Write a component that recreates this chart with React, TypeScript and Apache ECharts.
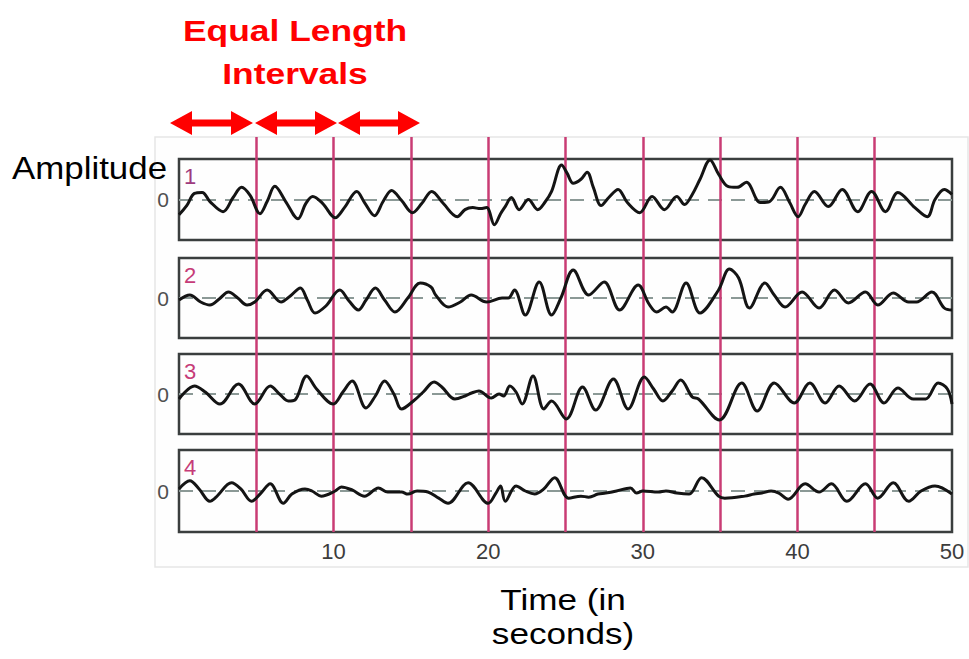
import React, { useEffect, useRef } from "react";
import * as echarts from "echarts";

// ---- data (time in seconds, amplitude in arbitrary units) ----
const panelLabels = ["1", "2", "3", "4"];
const xTickLabels = [10, 20, 30, 40, 50];
const intervalMarks = [5, 10, 15, 20, 25, 30, 35, 40, 45];

const signal1 = [
  [0, -15], [0.5, -6], [1.0, 6], [1.5, 7], [2.0, -2], [2.85, -12], [3.5, 2], [4.05, 12], [4.6, 4],
  [5.24, -14], [5.7, -2], [6.2, 13], [6.9, -2], [7.7, -19], [8.2, -4], [8.65, 3], [9.3, -4],
  [10.1, -18], [10.7, -8], [11.5, 8], [12.0, -3], [12.65, -16], [13.2, -2], [13.75, 9], [14.4, -1],
  [15.1, -13], [15.7, -4], [16.35, 8], [17.1, -4], [18.0, -17], [18.5, -10], [19.0, -8], [19.5, -9],
  [19.9, -8], [20.4, -25], [20.8, -14], [21.1, -7], [21.5, 2], [22.0, -10], [22.6, 0], [23.2, -10],
  [23.7, -2], [24.1, 8], [24.75, 34], [25.1, 26], [25.5, 16], [26.0, 20], [26.4, 27], [26.8, 12],
  [27.3, -6], [27.8, 2], [28.4, 10], [29.0, -3], [29.8, -13], [30.6, 3], [31.4, -10], [32.2, 3],
  [32.7, -5], [33.2, 5], [33.7, 20], [34.35, 39], [34.9, 25], [35.5, 13], [36.1, 12], [36.7, 17],
  [37.6, -3], [38.2, -2], [38.9, 12], [39.5, -3], [40.05, -17], [40.5, -5], [41.1, 8], [42.0, -7],
  [42.9, 10], [43.9, -12], [44.8, 8], [45.7, -12], [46.5, 7], [47.6, -8], [48.4, -17], [48.9, 0],
  [49.5, 10], [50, 5],
];

const signal2 = [
  [0, -2], [0.7, 3], [1.4, -4], [2.0, -7], [2.6, -1], [3.2, 6], [3.8, 0], [4.4, -7], [4.9, -4],
  [5.7, 8], [6.6, -4], [7.2, 2], [7.85, 10], [8.3, -2], [8.8, -15], [9.5, -8], [10.4, 8], [11.0, -3],
  [11.6, -12], [12.1, -2], [12.7, 10], [13.3, -2], [13.97, -14], [14.8, 0], [15.6, 15], [16.3, 11],
  [16.6, 3], [17.4, -9], [18.2, -4], [18.9, 3], [19.9, -4], [20.9, 0], [21.3, 0], [21.7, 8],
  [22.4, -17], [23.3, 16], [24.1, -17], [24.7, 0], [25.5, 28], [26.5, 3], [27.5, 16], [28.5, -12],
  [29.7, 13], [30.4, -6], [30.9, -14], [31.5, -9], [31.9, -14], [32.8, 15], [33.7, -15], [34.9, 8],
  [35.6, 29], [36.2, 20], [36.9, -10], [37.9, 15], [38.5, 3], [39.2, -9], [40.3, 6], [41.4, -10],
  [42.4, 8], [43.3, -5], [44.4, 6], [45.2, -7], [46.2, 5], [47.2, -4], [47.7, -4], [48.7, 6],
  [49.5, -10], [50, -12],
];

const signal3 = [
  [0, -5], [1.0, 8], [1.7, 2], [2.65, -10], [3.84, 10], [4.9, -10], [5.9, 8], [6.5, 0], [7.07, -7],
  [7.5, -6], [8.26, 18], [8.9, 5], [9.98, -10], [10.6, 2], [11.2, 13], [12.1, -14], [12.7, -2],
  [13.3, 13], [13.9, 0], [14.4, -15], [15.16, -7], [15.8, 2], [16.5, 12], [17.0, 7], [17.85, -5],
  [18.5, -2], [18.93, 1], [19.4, 3], [20.2, -4], [20.7, 0], [21.0, -2], [21.4, 8], [21.8, 2],
  [22.2, -10], [22.9, 18], [23.6, -15], [24.1, -7], [25.05, -25], [26.1, 7], [26.95, -16], [28.1, 15],
  [29.05, -15], [30.1, 17], [30.7, 5], [31.3, -7], [31.9, 3], [32.45, 14], [33.2, -3], [33.6, -5],
  [34.95, -26], [36.4, 11], [37.4, -17], [38.5, 11], [39.8, -9], [40.8, 11], [41.8, -9], [42.7, 8],
  [43.7, -7], [44.7, 10], [45.6, -9], [46.5, 6], [47.5, -5], [48.3, -5], [49.1, 11], [49.7, 5],
  [50, -10],
];

const signal4 = [
  [0, 2], [0.7, 10], [1.3, 2], [2.0, -10], [2.4, -6], [3.4, 8], [4.0, 2], [4.7, -10], [5.3, -2],
  [5.9, 7], [6.75, -12], [7.3, -3], [8.15, 2], [8.6, 0], [9.2, -5], [10.1, 0], [10.5, 4], [11.2, 1],
  [12.0, -5], [12.9, 3], [13.5, -1], [14.4, -1], [14.8, -3], [15.4, 0], [16.1, -1], [16.8, -7],
  [17.4, -12], [18.7, 8], [20.0, -12], [20.5, -2], [20.8, 5], [21.1, -10], [21.8, 5], [22.4, 0],
  [23.0, -3], [23.6, 2], [24.3, 13], [25.2, -7], [26.0, -5], [26.5, -6], [27.1, -3], [27.6, -2],
  [28.3, 0], [29.2, 3], [29.6, -2], [30.0, 0], [31.0, -1], [31.5, 0], [32.2, -2], [33.0, -3],
  [33.8, 13], [34.9, -5], [35.3, -7], [36.6, -5], [37.2, -3], [37.7, -2], [38.3, 0], [38.8, -2],
  [39.4, -8], [40.5, 7], [41.4, -1], [42.2, 7], [43.2, -10], [44.4, 7], [45.2, -7], [46.2, 8],
  [47.2, -10], [48.0, 0], [48.9, 5], [50, -3],
];

const signals = [signal1, signal2, signal3, signal4];

// ---- layout / style ----
const W = 969;
const H = 659;
const PLOT_LEFT = 179;
const PLOT_RIGHT = 17;
const panelTops = [159, 258, 354, 450];
const panelHeights = [81, 80, 80, 82];
const arrowSpans = [[170, 253], [255, 337], [338, 420]];
const FONT = "'Liberation Sans', Arial, Helvetica, sans-serif";
const PINK = "#c93c74";

export default function App() {
  const ref = useRef<HTMLDivElement | null>(null);

  useEffect(() => {
    if (!ref.current) return;
    const chart = echarts.init(ref.current, undefined, { renderer: "svg" });

    const grids: any[] = panelTops.map((top, i) => ({
      left: PLOT_LEFT,
      right: PLOT_RIGHT,
      top,
      height: panelHeights[i],
      show: true,
      borderColor: "#3a3e3e",
      borderWidth: 2.5,
      backgroundColor: "transparent",
    }));
    grids.push({
      left: PLOT_LEFT,
      right: PLOT_RIGHT,
      top: 137,
      height: 532 - 137,
      show: false,
    });

    const xAxes: any[] = panelTops.map((_, i) => ({
      type: "value",
      gridIndex: i,
      min: 0,
      max: 50,
      show: false,
    }));
    xAxes.push({
      type: "value",
      gridIndex: 4,
      min: 0,
      max: 50,
      interval: 10,
      axisLine: { show: false },
      axisTick: { show: false },
      splitLine: { show: false },
      axisLabel: {
        margin: 8,
        fontSize: 22,
        color: "#3c3c3c",
        fontFamily: FONT,
        formatter: (v: number) => (xTickLabels.includes(v) ? String(v) : ""),
        showMaxLabel: true,
      },
    });

    const yAxes: any[] = panelTops.map((_, i) => ({
      type: "value",
      gridIndex: i,
      min: -40,
      max: 40,
      interval: 40,
      axisLine: { show: false },
      axisTick: { show: false },
      splitLine: { show: false },
      axisLabel: {
        margin: 10,
        fontSize: 21,
        color: "#505050",
        fontFamily: FONT,
        formatter: (v: number) => (v === 0 ? "0" : ""),
      },
    }));
    yAxes.push({ type: "value", gridIndex: 4, min: 0, max: 1, show: false });

    const series: any[] = signals.map((data, i) => ({
      type: "line",
      name: "Signal " + panelLabels[i],
      xAxisIndex: i,
      yAxisIndex: i,
      data,
      smooth: 0.35,
      showSymbol: false,
      z: 8,
      lineStyle: { color: "#141414", width: 3 },
      markLine: {
        silent: true,
        symbol: ["none", "none"],
        label: { show: false },
        lineStyle: { color: "#8b9996", type: [14, 9], width: 2 },
        data: [{ yAxis: 0 }],
      },
    }));
    series.push({
      type: "line",
      name: "intervals",
      xAxisIndex: 4,
      yAxisIndex: 4,
      data: [[0, 0], [50, 0]],
      showSymbol: false,
      silent: true,
      lineStyle: { opacity: 0 },
      markLine: {
        silent: true,
        symbol: ["none", "none"],
        label: { show: false },
        lineStyle: { color: PINK, type: "solid", width: 2.5 },
        data: intervalMarks.map((t) => ({ xAxis: t })),
      },
    });

    const arrowY = 123;
    const hl = 22;
    const hh = 12;
    const st = 3.5;
    const arrows = arrowSpans.map(([x1, x2]) => ({
      type: "polygon",
      shape: {
        points: [
          [x1, arrowY], [x1 + hl, arrowY - hh], [x1 + hl, arrowY - st], [x2 - hl, arrowY - st],
          [x2 - hl, arrowY - hh], [x2, arrowY], [x2 - hl, arrowY + hh], [x2 - hl, arrowY + st],
          [x1 + hl, arrowY + st], [x1 + hl, arrowY + hh],
        ],
      },
      style: { fill: "#ff0000" },
    }));

    const panelNums = panelLabels.map((lab, i) => ({
      type: "text",
      x: 184,
      y: panelTops[i] + 6,
      style: {
        text: lab,
        fill: i === 0 ? "#9e3b7e" : "#c63c78",
        fontSize: 22,
        fontFamily: FONT,
        textAlign: "left",
        textVerticalAlign: "top",
      },
      z: 20,
    }));

    const textEl = (text: string, x: number, y: number, size: number, sx: number, opts: any = {}) => ({
      type: "text",
      x,
      y,
      scaleX: sx,
      style: {
        text,
        fill: opts.fill || "#000",
        fontSize: size,
        fontWeight: opts.bold ? "bold" : "normal",
        fontFamily: FONT,
        textAlign: opts.align || "center",
        textVerticalAlign: "middle",
      },
      z: 20,
    });

    const option: any = {
      animation: false,
      backgroundColor: "#ffffff",
      grid: grids,
      xAxis: xAxes,
      yAxis: yAxes,
      series,
      graphic: [
        {
          type: "rect",
          shape: { x: 155, y: 137, width: 813, height: 430 },
          style: { fill: "#fefefe", stroke: "#e6e6e6", lineWidth: 1.5 },
          z: -10,
          silent: true,
        },
        ...arrows,
        ...panelNums,
        textEl("Equal Length", 295, 30, 30, 1.18, { fill: "#ff0000", bold: true }),
        textEl("Intervals", 295, 73, 30, 1.18, { fill: "#ff0000", bold: true }),
        textEl("Amplitude", 12, 168, 31, 1.125, { align: "left" }),
        textEl("Time (in", 563, 599, 30, 1.17),
        textEl("seconds)", 563, 633, 30, 1.17),
      ],
    };

    chart.setOption(option);
    return () => chart.dispose();
  }, []);

  return (
    <div
      ref={ref}
      style={{ position: "fixed", left: 0, top: 0, width: W, height: H, background: "#fff" }}
    />
  );
}
